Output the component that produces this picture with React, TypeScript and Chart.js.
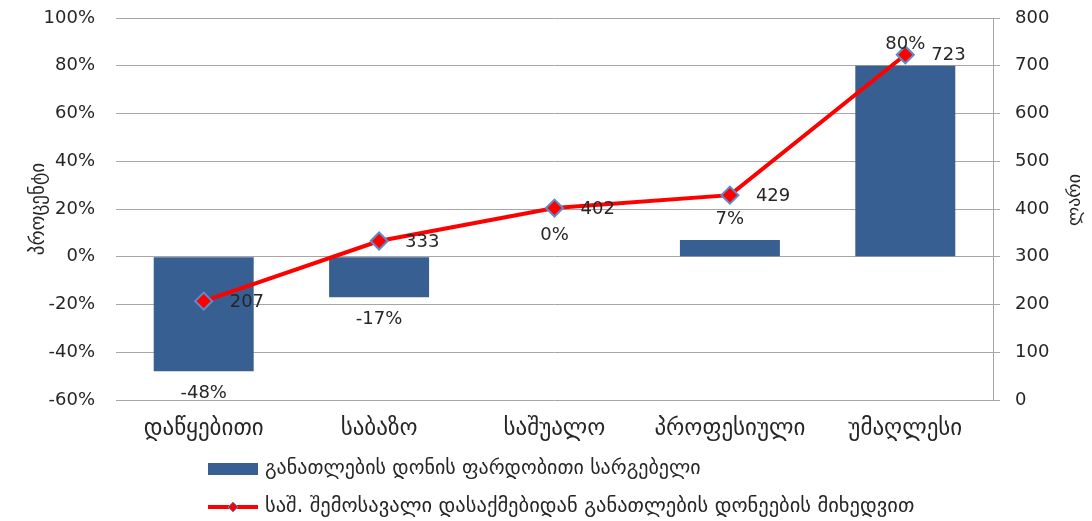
import React, { useEffect, useRef } from "react";
import { Chart, registerables } from "chart.js";

Chart.register(...registerables);

const categories = ["დაწყებითი", "საბაზო", "საშუალო", "პროფესიული", "უმაღლესი"];
const barValues = [-48, -17, 0, 7, 80];
const lineValues = [207, 333, 402, 429, 723];
const barLabel = "განათლების დონის ფარდობითი სარგებელი";
const lineLabel = "საშ. შემოსავალი დასაქმებიდან განათლების დონეების მიხედვით";
const leftTitle = "პროცენტი";
const rightTitle = "ლარი";

const FONT = "'DejaVu Sans', sans-serif";
const BAR_COLOR = "#375F91";
const LINE_COLOR = "#FF0000";
const POINT_BORDER = "#5B8CCB";
const TEXT = "#262626";
const GRID = "#A6A6A6";

const overlayPlugin = {
  id: "overlay",
  afterDatasetsDraw(chart: any) {
    const ctx = chart.ctx;
    ctx.save();
    const barMeta = chart.getDatasetMeta(0);
    ctx.fillStyle = TEXT;
    ctx.font = `18px ${FONT}`;
    ctx.textAlign = "center";
    ctx.textBaseline = "middle";
    barMeta.data.forEach((el: any, i: number) => {
      const v = barValues[i];
      const y = v < 0 ? el.y + 22 : el.y - 21;
      ctx.fillText(`${v}%`, el.x, y);
    });
    const lineMeta = chart.getDatasetMeta(1);
    ctx.font = `18px ${FONT}`;
    ctx.textAlign = "left";
    lineMeta.data.forEach((el: any, i: number) => {
      ctx.fillText(String(lineValues[i]), el.x + 26, el.y + 1);
    });
    ctx.restore();
  },
  afterDraw(chart: any) {
    const ctx = chart.ctx;
    ctx.save();
    ctx.fillStyle = TEXT;
    ctx.font = `18px ${FONT}`;
    ctx.textAlign = "center";
    ctx.textBaseline = "middle";
    ctx.translate(1075, 200);
    ctx.rotate(-Math.PI / 2);
    ctx.fillText(rightTitle, 0, 0);
    ctx.restore();

    ctx.save();
    ctx.fillStyle = BAR_COLOR;
    ctx.fillRect(208, 463, 50, 12);
    ctx.fillStyle = TEXT;
    ctx.font = `20px ${FONT}`;
    ctx.textAlign = "left";
    ctx.textBaseline = "middle";
    ctx.fillText(chart.data.datasets[0].label, 265, 469);

    ctx.strokeStyle = LINE_COLOR;
    ctx.lineWidth = 4;
    ctx.beginPath();
    ctx.moveTo(208, 507);
    ctx.lineTo(258, 507);
    ctx.stroke();
    ctx.beginPath();
    ctx.moveTo(233, 502);
    ctx.lineTo(238, 507);
    ctx.lineTo(233, 512);
    ctx.lineTo(228, 507);
    ctx.closePath();
    ctx.fillStyle = LINE_COLOR;
    ctx.fill();
    ctx.lineWidth = 1;
    ctx.strokeStyle = POINT_BORDER;
    ctx.stroke();
    ctx.fillStyle = TEXT;
    ctx.font = `20.5px ${FONT}`;
    ctx.fillText(chart.data.datasets[1].label, 265, 507);
    ctx.restore();
  },
};

export default function App() {
  const ref = useRef<HTMLCanvasElement>(null);
  useEffect(() => {
    document.body.style.margin = "0";
    const chart = new Chart(ref.current as HTMLCanvasElement, {
      data: {
        labels: categories,
        datasets: [
          {
            type: "bar",
            label: barLabel,
            data: barValues,
            backgroundColor: BAR_COLOR,
            borderWidth: 0,
            yAxisID: "y",
            order: 1,
            barPercentage: 0.57,
            categoryPercentage: 1,
          } as any,
          {
            type: "line",
            label: lineLabel,
            data: lineValues,
            borderColor: LINE_COLOR,
            borderWidth: 4,
            pointStyle: "rectRot",
            pointRadius: 8.5,
            pointBackgroundColor: LINE_COLOR,
            pointBorderColor: POINT_BORDER,
            pointBorderWidth: 2,
            tension: 0,
            yAxisID: "y1",
            order: 0,
          } as any,
        ],
      },
      options: {
        responsive: false,
        animation: false,
        layout: { padding: { top: 18, left: 0, right: 0, bottom: 0 } },
        plugins: {
          legend: { display: false },
          tooltip: { enabled: false },
        },
        scales: {
          x: {
            grid: { display: false, drawTicks: false },
            border: { display: false },
            ticks: { font: { family: FONT, size: 23 }, color: TEXT, padding: 15 },
            afterFit(scale: any) {
              scale.height = 121;
            },
          },
          y: {
            position: "left",
            min: -60,
            max: 100,
            ticks: {
              stepSize: 20,
              font: { family: FONT, size: 18 },
              color: TEXT,
              padding: 21,
              callback: (v: any) => `${v}%`,
            },
            grid: { color: GRID, drawTicks: false, lineWidth: 1 },
            border: { display: false },
            title: {
              display: true,
              text: leftTitle,
              font: { family: FONT, size: 19 },
              color: TEXT,
              padding: { top: 28, bottom: 0 },
            },
            afterFit(scale: any) {
              scale.width = 116;
              scale.paddingTop = 0;
              scale.paddingBottom = 0;
            },
          },
          y1: {
            position: "right",
            min: 0,
            max: 800,
            ticks: {
              stepSize: 100,
              font: { family: FONT, size: 18 },
              color: TEXT,
              padding: 15,
            },
            grid: { drawOnChartArea: false, color: GRID, tickLength: 7 },
            border: { display: true, color: GRID },
            afterFit(scale: any) {
              scale.width = 99;
              scale.paddingTop = 0;
              scale.paddingBottom = 0;
            },
          },
        },
      } as any,
      plugins: [overlayPlugin],
    });
    return () => chart.destroy();
  }, []);
  return (
    <div style={{ width: 1092, height: 521 }}>
      <canvas ref={ref} width={1092} height={521} />
    </div>
  );
}
